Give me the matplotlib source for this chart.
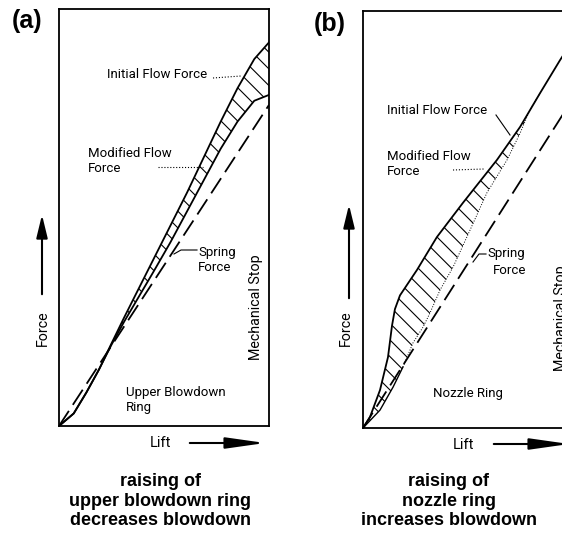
import numpy as np
import matplotlib
matplotlib.use("Agg")
import matplotlib.pyplot as plt
from matplotlib.patches import FancyArrowPatch
from matplotlib.lines import Line2D

# Lift / force curves, normalised to the plot box (0..1)
# (a) upper blowdown ring
lift_a = [0, 0.07, 0.13, 0.19, 0.25, 0.31, 0.38, 0.45, 0.53, 0.61, 0.69, 0.77, 0.85, 0.93, 1.0]
initial_a = [0, 0.03, 0.08, 0.135, 0.198, 0.26, 0.33, 0.40, 0.48, 0.56, 0.645, 0.73, 0.81, 0.88, 0.92]
modified_a = [0, 0.03, 0.08, 0.135, 0.195, 0.25, 0.31, 0.37, 0.44, 0.515, 0.59, 0.665, 0.73, 0.78, 0.794]
spring_lift_a = [0, 1.0]
spring_a = [0, 0.77]

# (b) nozzle ring
lift_b_upper = [0, 0.033, 0.081, 0.119, 0.138, 0.152, 0.176, 0.257, 0.352, 0.476, 0.638, 0.748, 0.843, 0.938, 1.0]
flow_b_upper = [0, 0.026, 0.091, 0.170, 0.245, 0.285, 0.318, 0.379, 0.458, 0.540, 0.643, 0.722, 0.803, 0.882, 0.93]
lift_b_lower = [0, 0.081, 0.143, 0.190, 0.238, 0.286, 0.319, 0.367, 0.429, 0.510, 0.590, 0.686, 0.748, 0.795, 0.843]
flow_b_lower = [0, 0.043, 0.098, 0.146, 0.204, 0.242, 0.276, 0.331, 0.386, 0.475, 0.564, 0.643, 0.707, 0.763, 0.803]
spring_lift_b = [0, 1.0]
spring_b = [0, 0.79]

captions = ["raising of\nupper blowdown ring\ndecreases blowdown",
            "raising of\nnozzle ring\nincreases blowdown"]

W, H = 562, 533
plt.rcParams['hatch.linewidth'] = 0.8
LABEL_FONT = 'Roboto'

fig = plt.figure(figsize=(W / 100, H / 100), dpi=100)


def px(x, y):
    # pixel position (from top-left) -> figure fraction
    return x / W, 1 - y / H


def make_box(left, top, right, bottom):
    l, t = px(left, top)
    r, b = px(right, bottom)
    ax = fig.add_axes([l, b, r - l, t - b])
    ax.set_xlim(0, 1)
    ax.set_ylim(0, 1)
    ax.set_xticks([])
    ax.set_yticks([])
    for s in ax.spines.values():
        s.set_linewidth(1.3)
    return ax


def label(x, y, s, **kw):
    kw.setdefault('fontsize', 9.5)
    kw.setdefault('family', LABEL_FONT)
    kw.setdefault('linespacing', 1.25)
    fig.text(*px(x, y), s, **kw)


def leader(pts, **kw):
    xs = [p[0] / W for p in pts]
    ys = [1 - p[1] / H for p in pts]
    fig.add_artist(Line2D(xs, ys, transform=fig.transFigure, color='black', **kw))


def arrow(p0, p1, head_length, head_width):
    a = FancyArrowPatch(px(*p0), px(*p1), transform=fig.transFigure,
                        arrowstyle=f'-|>,head_length={head_length},head_width={head_width}',
                        mutation_scale=1, lw=1.5, color='black', clip_on=False)
    fig.add_artist(a)


spring_dash = (0, (10, 4))

# ---- panel (a) ----
ax_a = make_box(59, 9, 269, 426)
poly_x = np.r_[lift_a, lift_a[::-1]]
poly_y = np.r_[initial_a, modified_a[::-1]]
ax_a.fill(poly_x, poly_y, facecolor='none', edgecolor='black', hatch='\\\\', lw=0)
ax_a.plot(lift_a, initial_a, color='black', lw=1.3)
ax_a.plot(lift_a, modified_a, color='black', lw=1.3)
ax_a.plot(spring_lift_a, spring_a, color='black', lw=1.3, linestyle=spring_dash)

# ---- panel (b) ----
ax_b = make_box(363, 11, 573, 428)
n_top = lift_b_upper.index(lift_b_lower[-1]) + 1
poly_x = np.r_[lift_b_upper[:n_top], lift_b_lower[::-1]]
poly_y = np.r_[flow_b_upper[:n_top], flow_b_lower[::-1]]
ax_b.fill(poly_x, poly_y, facecolor='none', edgecolor='black', hatch='\\\\', lw=0)
ax_b.plot(lift_b_upper, flow_b_upper, color='black', lw=1.3)
ax_b.plot(lift_b_lower[:4], flow_b_lower[:4], color='black', lw=1.0)
ax_b.plot(lift_b_lower[3:], flow_b_lower[3:], color='black', lw=0.7, linestyle=':')
ax_b.plot(spring_lift_b, spring_b, color='black', lw=1.3, linestyle=spring_dash)

# panel letters
fig.text(*px(27, 21), '(a)', fontsize=18, fontweight='bold', family='Liberation Sans',
         ha='center', va='center')
fig.text(*px(330, 24), '(b)', fontsize=18, fontweight='bold', family='Liberation Sans',
         ha='center', va='center')

# curve labels (a)
label(107, 74, 'Initial Flow Force', va='center')
leader([(213, 78), (241, 76)], lw=0.8, linestyle=':')
label(88, 161, 'Modified Flow\nForce', va='center')
leader([(158, 167), (203, 167)], lw=0.8, linestyle=':')
label(198, 260, 'Spring\nForce', va='center')
leader([(174, 254), (181, 250), (197, 250)], lw=0.8)
label(256, 307, 'Mechanical Stop', rotation=90, ha='center', va='center', fontsize=10.3)
label(126, 400, 'Upper Blowdown\nRing', va='center')

# curve labels (b)
label(387, 111, 'Initial Flow Force', va='center')
leader([(496, 115), (510, 135)], lw=0.8)
label(387, 164, 'Modified Flow\nForce', va='center')
leader([(453, 170), (484, 169)], lw=0.8, linestyle=':')
label(487, 254, 'Spring', va='center')
label(493, 271, 'Force', va='center')
leader([(473, 262), (479, 254), (486, 254)], lw=0.8)
label(561, 318, 'Mechanical Stop', rotation=90, ha='center', va='center', fontsize=10.3)
label(433, 393, 'Nozzle Ring', va='center')

# axis names and direction arrows
for x_force, x_lift, y_lift in [(43, 160, 443), (346, 463, 445)]:
    label(x_force, 328, 'Force', rotation=90, ha='center', va='center', fontsize=10.3)
    label(x_lift, y_lift, 'Lift', ha='center', va='center', fontsize=10.5)

arrow((42, 297), (42, 212), 14, 3.4)
arrow((349, 301), (349, 202), 14, 3.4)
arrow((187, 443), (268, 443), 24, 3.4)
arrow((491, 444), (572, 444), 24, 3.4)

# captions
for cx, text in zip([160, 449], captions):
    fig.text(*px(cx, 501), text, fontsize=13, fontweight='bold', family='Liberation Sans',
             ha='center', va='center', linespacing=1.22)

fig.savefig('out.png', dpi=100)
